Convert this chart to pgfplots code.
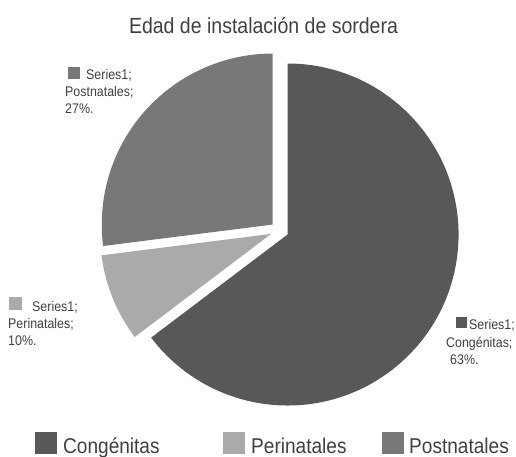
\documentclass[border=0pt]{standalone}
\usepackage{fontspec}
\setmainfont{Liberation Sans}[FakeStretch=0.89]
\usepackage{pgfplots}
\usepackage{pgfplotstable}
\pgfplotsset{compat=1.18}

\definecolor{cong}{HTML}{58585A}
\definecolor{peri}{HTML}{AAAAAC}
\definecolor{post}{HTML}{77787A}
\definecolor{txt}{HTML}{404040}

% slice sizes (percent), clockwise from 12 o'clock
\pgfplotstableread{
value color
64.7 cong
8.3 peri
27.0 post
}\piedata

\newcommand\lblfont{\fontsize{14}{17}\selectfont}
\newcommand\bigfont{\fontsize{21.5}{26}\selectfont}

\begin{document}
\begin{tikzpicture}
\path[use as bounding box] (0,0) rectangle (516bp,457bp);
\begin{axis}[
    x=1bp, y=1bp,
    xmin=0, xmax=516, ymin=0, ymax=457,
    y dir=reverse,
    hide axis,
    clip=false,
]
% pie slices, each pulled out 9bp along its middle angle
\def\angstart{90}
\pgfplotsforeachungrouped \i in {0,1,2}{%
  \pgfplotstablegetelem{\i}{value}\of\piedata
  \let\val\pgfplotsretval
  \pgfplotstablegetelem{\i}{color}\of\piedata
  \let\col\pgfplotsretval
  \pgfmathsetmacro\angend{\angstart-3.6*\val}
  \pgfmathsetmacro\angmid{(\angstart+\angend)/2}
  \edef\temp{\noexpand\fill[\col] (axis cs:279.5,230.5) ++(\angmid:9bp)
    -- ++(\angstart:171bp) arc[start angle=\angstart, end angle=\angend, radius=171bp] -- cycle;}%
  \temp
  \let\angstart\angend
}

% title
\node[anchor=base, inner sep=0, font=\fontsize{22}{26}\selectfont, text=txt] at (axis cs:263.5,33.3)
  {Edad de instalación de sordera};

% data labels
\fill[post] (axis cs:68,67) rectangle (axis cs:80,79);
\node[anchor=base west, inner sep=0, font=\lblfont, text=txt] at (axis cs:86,79) {Series1;};
\node[anchor=base west, inner sep=0, font=\lblfont, text=txt] at (axis cs:65,96) {Postnatales;};
\node[anchor=base west, inner sep=0, font=\lblfont, text=txt] at (axis cs:65,113) {27\%.};

\fill[peri] (axis cs:9,297) rectangle (axis cs:22,310);
\node[anchor=base west, inner sep=0, font=\lblfont, text=txt] at (axis cs:32,311) {Series1;};
\node[anchor=base west, inner sep=0, font=\lblfont, text=txt] at (axis cs:8,328) {Perinatales;};
\node[anchor=base west, inner sep=0, font=\lblfont, text=txt] at (axis cs:8,345) {10\%.};

\fill[cong] (axis cs:456,317) rectangle (axis cs:467,328);
\node[anchor=base west, inner sep=0, font=\lblfont, text=txt] at (axis cs:469,329) {Series1;};
\node[anchor=base west, inner sep=0, font=\lblfont, text=txt] at (axis cs:446,347) {Congénitas;};
\node[anchor=base west, inner sep=0, font=\lblfont, text=txt] at (axis cs:450,364) {63\%.};

% legend
\fill[cong] (axis cs:35,432) rectangle (axis cs:57,454);
\node[anchor=base west, inner sep=0, font=\bigfont, text=txt] at (axis cs:63,453.5) {Congénitas};
\fill[peri] (axis cs:223,432) rectangle (axis cs:245,454);
\node[anchor=base west, inner sep=0, font=\bigfont, text=txt] at (axis cs:251,453.5) {Perinatales};
\fill[post] (axis cs:382,432) rectangle (axis cs:404,454);
\node[anchor=base west, inner sep=0, font=\bigfont, text=txt] at (axis cs:409,453.5) {Postnatales};
\end{axis}
\end{tikzpicture}
\end{document}
